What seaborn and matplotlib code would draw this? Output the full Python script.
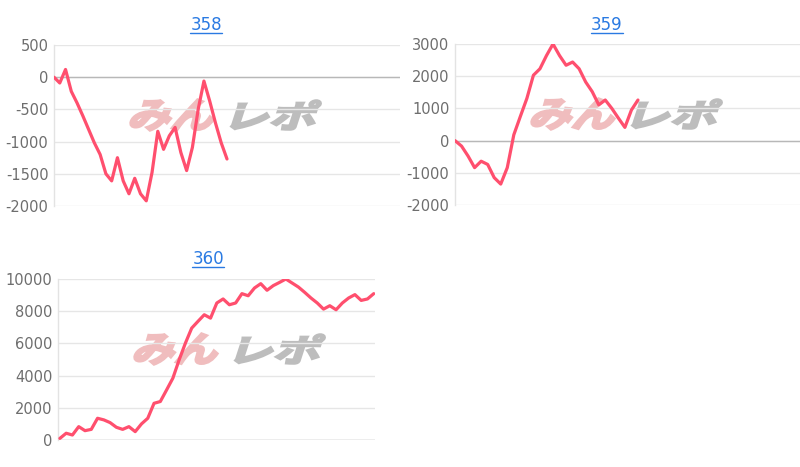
import matplotlib
matplotlib.use('Agg')
import matplotlib.pyplot as plt
import seaborn as sns
from matplotlib.textpath import TextPath
from matplotlib.patches import PathPatch
from matplotlib.font_manager import FontProperties
from matplotlib.transforms import Affine2D, IdentityTransform
from matplotlib.lines import Line2D

# values
titles = ['358', '359', '360']
g358 = [0, -90, 120, -220, -400, -600, -810, -1020, -1200, -1500, -1610, -1250,
        -1610, -1810, -1570, -1810, -1920, -1480, -840, -1120, -910, -780, -1170,
        -1450, -1090, -500, -60, -370, -710, -1020, -1270]
g359 = [0, -170, -480, -840, -640, -740, -1150, -1350, -840, 180, 750, 1310,
        2030, 2230, 2640, 3000, 2640, 2340, 2440, 2230, 1820, 1520, 1110, 1260,
        1000, 700, 410, 950, 1260]
g360 = [100, 420, 310, 830, 580, 660, 1350, 1250, 1080, 790, 660, 830, 520, 1000,
        1350, 2280, 2390, 3110, 3840, 4980, 6020, 6950, 7370, 7780, 7570, 8510,
        8760, 8400, 8510, 9090, 8960, 9440, 9710, 9300, 9590, 9790, 10000, 9750,
        9500, 9170, 8820, 8510, 8130, 8340, 8090, 8510, 8820, 9030, 8670, 8760, 9090]
yticks358 = [-2000, -1500, -1000, -500, 0, 500]
yticks359 = [-2000, -1000, 0, 1000, 2000, 3000]
yticks360 = [0, 2000, 4000, 6000, 8000, 10000]

W, H = 800, 467
sns.set_theme(style='white')
plt.rcParams['font.family'] = ['DejaVu Sans']

fig = plt.figure(figsize=(8, 4.67), dpi=100)

# (data, ticks, xlim, axes left px, top px, width px, title center px, title baseline px)
panels = [
    (g358, yticks358, (0, 60), 54, 45, 346, 206, 30),
    (g359, yticks359, (0, 52.8), 455, 44, 345, 607, 30),
    (g360, yticks360, (-0.3, 50.2), 58, 279, 317, 208, 264),
]
plot_h = 161
line_color = '#ff4f6e'
link_color = '#2a7ae2'
wm_font = FontProperties(family='Noto Sans CJK JP', weight='bold')


def watermark(ax, text, cx, cy, w, h, color):
    tp = TextPath((0, 0), text, size=40, prop=wm_font)
    ext = tp.get_extents()
    tr = (Affine2D().translate(-ext.x0, -ext.y0)
          .scale(w / ext.width, h / ext.height)
          .translate(-w / 2, -h / 2)
          .skew_deg(18, 0)
          .translate(cx, H - cy))
    patch = PathPatch(tp, transform=tr + IdentityTransform(), facecolor=color,
                      edgecolor=color, linewidth=1.8, joinstyle='miter', zorder=0.5)
    ax.add_artist(patch)


title_texts = []
for i, (data, ticks, xlim, left, top, width, tx, ty) in enumerate(panels):
    ax = fig.add_axes([left / W, 1 - (top + plot_h) / H, width / W, plot_h / H])
    x = list(range(len(data)))
    sns.lineplot(x=x, y=data, ax=ax, color=line_color, linewidth=2.3, zorder=3)
    ax.set_xlim(*xlim)
    ax.set_ylim(ticks[0], ticks[-1])
    ax.set_yticks(ticks)
    ax.set_yticklabels([str(t) for t in ticks])
    ax.set_xticks([])
    ax.tick_params(axis='y', length=0, pad=4, labelsize=10.5, labelcolor='#6e6e6e')
    ax.grid(axis='y', color='#e6e6e6', linewidth=1, zorder=1)
    ax.set_axisbelow(True)
    for s in ['top', 'right', 'bottom']:
        ax.spines[s].set_visible(False)
    ax.spines['left'].set_color('#e3e3e3')
    ax.spines['left'].set_linewidth(1)
    ax.axhline(0, color='#b8b8b8', linewidth=1, zorder=1.5)
    ax.set_xlabel('')
    ax.set_ylabel('')

    watermark(ax, 'みん', left + 120, top + 70, 82, 31, '#f0bdbe')
    watermark(ax, 'レポ', left + 222, top + 70, 82, 29, '#bdbdbd')

    t = fig.text(tx / W, 1 - ty / H, titles[i], ha='center', va='baseline',
                 fontsize=12, color=link_color)
    title_texts.append((t, ty))

# underline the title links
fig.canvas.draw()
renderer = fig.canvas.get_renderer()
for t, ty in title_texts:
    bb = t.get_window_extent(renderer)
    y = 1 - (ty + 2.5) / H
    fig.add_artist(Line2D([bb.x0 / W, bb.x1 / W], [y, y], color=link_color, linewidth=1))

fig.savefig('out.png', dpi=100)
